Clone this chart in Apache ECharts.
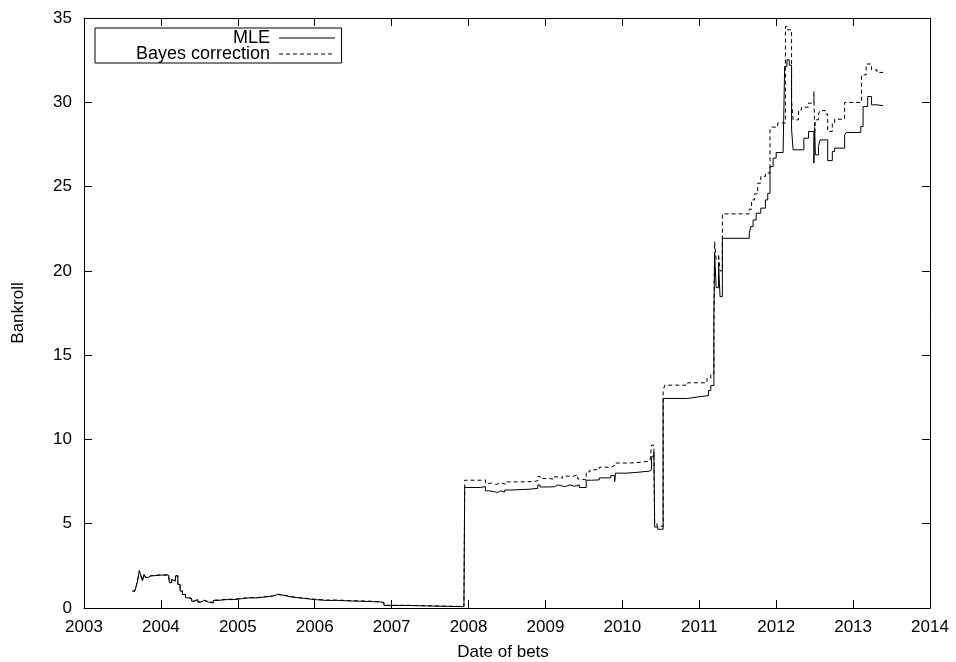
<!DOCTYPE html>
<html>
<head>
<meta charset="utf-8">
<script src="https://cdn.jsdelivr.net/npm/echarts@6/dist/echarts.min.js"></script>
<style>html,body{margin:0;padding:0;background:#fff;}#c{width:956px;height:662px;}</style>
</head>
<body>
<div id="c"></div>
<script>
// x ticks (years) and y ticks
const xTicks = [2003, 2004, 2005, 2006, 2007, 2008, 2009, 2010, 2011, 2012, 2013, 2014];
const yTicks = [0, 5, 10, 15, 20, 25, 30, 35];
const seriesNames = ['MLE', 'Bayes correction'];

// MLE bankroll: [date (fractional year), bankroll]
const mleData = [
  [2003.63,1.0],[2003.66,1.1],[2003.68,1.3],[2003.70,1.7],[2003.72,2.2],[2003.74,1.9],[2003.76,1.6],
  [2003.78,2.0],[2003.80,1.8],[2003.83,1.9],[2003.87,1.95],[2004.00,1.95],[2004.10,1.9],[2004.11,1.5],
  [2004.14,1.7],[2004.16,1.6],[2004.19,1.9],[2004.22,1.4],[2004.25,1.0],[2004.28,0.8],[2004.32,0.6],
  [2004.36,0.55],[2004.40,0.4],[2004.44,0.5],[2004.48,0.35],[2004.52,0.45],[2004.56,0.35],[2004.62,0.3],
  [2004.68,0.45],[2004.75,0.5],[2004.85,0.5],[2004.95,0.55],[2005.05,0.6],[2005.15,0.6],[2005.25,0.65],
  [2005.35,0.7],[2005.45,0.8],[2005.52,0.75],[2005.60,0.65],[2005.70,0.6],[2005.80,0.55],[2005.90,0.5],
  [2006.00,0.45],[2006.15,0.45],[2006.30,0.42],[2006.45,0.4],[2006.60,0.38],[2006.75,0.35],[2006.87,0.3],
  [2006.90,0.15],[2007.20,0.12],[2007.50,0.1],[2007.70,0.08],[2007.94,0.06],
  [2007.95,7.15],[2008.15,7.2],[2008.22,6.95],[2008.27,6.9],[2008.33,6.85],[2008.38,6.95],[2008.42,6.88],
  [2008.47,7.0],[2008.55,7.02],[2008.65,7.05],[2008.80,7.1],[2008.90,7.3],[2008.93,7.18],[2009.05,7.2],
  [2009.12,7.3],[2009.16,7.2],[2009.25,7.3],[2009.32,7.22],[2009.38,7.3],[2009.44,7.15],[2009.53,7.58],
  [2009.60,7.6],[2009.70,7.72],[2009.85,7.85],[2009.90,7.5],[2009.91,8.0],[2010.05,8.05],[2010.20,8.12],
  [2010.35,8.2],[2010.38,9.0],[2010.41,9.26],[2010.42,4.8],[2010.46,4.67],[2010.53,12.43],[2010.85,12.53],
  [2011.00,12.6],[2011.12,12.9],[2011.15,13.2],[2011.19,17.0],[2011.20,21.05],[2011.22,19.0],[2011.25,20.5],
  [2011.27,18.47],[2011.30,21.93],[2011.65,22.23],[2011.67,22.63],[2011.70,23.02],[2011.74,23.42],
  [2011.80,23.72],[2011.86,24.21],[2011.89,24.6],[2011.92,26.19],[2011.96,26.69],[2012.00,27.02],
  [2012.09,27.08],[2012.11,32.13],[2012.14,32.52],[2012.17,32.2],[2012.20,28.4],[2012.22,27.18],
  [2012.36,27.87],[2012.42,28.27],[2012.49,26.39],[2012.50,28.5],[2012.51,26.88],[2012.55,27.38],
  [2012.57,27.77],[2012.67,26.54],[2012.73,27.08],[2012.76,27.28],[2012.89,28.07],[2012.91,28.21],
  [2013.10,28.56],[2013.13,29.75],[2013.19,30.34],[2013.24,29.85],[2013.31,29.8],[2013.39,29.8]
];

// Bayes-corrected bankroll
const bayesData = [
  [2003.63,1.0],[2003.66,1.12],[2003.68,1.32],[2003.70,1.72],[2003.72,2.22],[2003.74,1.92],[2003.76,1.62],
  [2003.78,2.02],[2003.80,1.82],[2003.83,1.92],[2003.87,1.97],[2004.00,1.97],[2004.10,1.92],[2004.11,1.52],
  [2004.14,1.72],[2004.16,1.62],[2004.19,1.92],[2004.22,1.42],[2004.25,1.02],[2004.28,0.82],[2004.32,0.62],
  [2004.36,0.57],[2004.40,0.42],[2004.44,0.52],[2004.48,0.37],[2004.52,0.47],[2004.56,0.37],[2004.62,0.32],
  [2004.68,0.47],[2004.75,0.52],[2004.85,0.52],[2004.95,0.57],[2005.05,0.62],[2005.15,0.62],[2005.25,0.67],
  [2005.35,0.72],[2005.45,0.82],[2005.52,0.77],[2005.60,0.67],[2005.70,0.62],[2005.80,0.57],[2005.90,0.52],
  [2006.00,0.47],[2006.15,0.47],[2006.30,0.44],[2006.45,0.42],[2006.60,0.4],[2006.75,0.37],[2006.87,0.32],
  [2006.90,0.16],[2007.20,0.13],[2007.50,0.11],[2007.70,0.09],[2007.94,0.07],
  [2007.95,7.58],[2008.18,7.6],[2008.22,7.4],[2008.30,7.33],[2008.35,7.4],[2008.42,7.35],[2008.48,7.48],
  [2008.60,7.5],[2008.85,7.55],[2008.90,7.8],[2008.93,7.68],[2009.05,7.65],[2009.10,7.78],[2009.15,7.7],
  [2009.22,7.82],[2009.30,7.8],[2009.35,7.9],[2009.42,7.65],[2009.45,7.6],[2009.53,8.08],[2009.58,8.2],
  [2009.70,8.35],[2009.85,8.45],[2009.90,8.6],[2010.10,8.65],[2010.25,8.72],[2010.36,8.8],[2010.38,9.66],
  [2010.41,9.0],[2010.42,5.05],[2010.45,4.85],[2010.53,12.83],[2010.55,13.22],[2010.85,13.36],[2011.10,13.62],
  [2011.15,13.9],[2011.19,17.0],[2011.20,21.73],[2011.22,20.65],[2011.25,21.0],[2011.27,20.0],[2011.30,23.38],
  [2011.65,23.66],[2011.68,24.21],[2011.72,24.57],[2011.76,25.2],[2011.80,25.6],[2011.86,25.8],[2011.92,28.37],
  [2011.94,28.53],[2012.02,28.77],[2012.12,34.5],[2012.15,34.3],[2012.20,30.05],[2012.22,28.96],[2012.29,29.55],
  [2012.33,29.71],[2012.42,29.95],[2012.49,30.64],[2012.50,28.07],[2012.51,28.96],[2012.55,29.3],[2012.57,29.51],
  [2012.64,29.3],[2012.67,28.27],[2012.73,28.77],[2012.76,29.0],[2012.89,29.99],[2013.11,31.63],[2013.17,32.27],
  [2013.24,31.93],[2013.31,31.77],[2013.39,31.77]
];

const FONT = 'Liberation Sans, Arial, Helvetica, sans-serif';
const chart = echarts.init(document.getElementById('c'), null, {renderer: 'canvas'});
const axisLineStyle = {color: '#000', width: 1};
const tickStyle = {show: true, inside: true, length: 8, lineStyle: {color: '#000', width: 1}};

chart.setOption({
  animation: false,
  backgroundColor: '#fff',
  grid: {left: 84, right: 26, top: 18, bottom: 54, containLabel: false, outerBoundsMode: 'none'},
  legend: {
    data: seriesNames,
    orient: 'vertical',
    align: 'right',
    left: 95,
    top: 28,
    itemWidth: 56,
    itemHeight: 10,
    itemGap: -2,
    padding: [1, 6, 0, 41],
    borderColor: '#000',
    borderWidth: 1,
    selectedMode: false,
    itemStyle: {opacity: 0, color: 'transparent', borderWidth: 0},
    lineStyle: {width: 1},
    textStyle: {fontFamily: FONT, fontSize: 18, color: '#000', lineHeight: 16, padding: [0, 4, 0, 0]}
  },
  xAxis: [
    {
      type: 'value', min: xTicks[0], max: xTicks[xTicks.length - 1], interval: 1,
      name: 'Date of bets', nameLocation: 'middle', nameGap: 36,
      nameTextStyle: {fontFamily: FONT, fontSize: 17, color: '#000', padding: [0, 8, 0, 0]},
      axisLine: {show: true, onZero: false, lineStyle: axisLineStyle},
      axisTick: tickStyle,
      axisLabel: {fontFamily: FONT, fontSize: 17, color: '#000', margin: 11,
        formatter: v => (xTicks.indexOf(v) >= 0 ? String(v) : '')},
      splitLine: {show: false}
    },
    {
      type: 'value', position: 'top', min: xTicks[0], max: xTicks[xTicks.length - 1], interval: 1,
      axisLine: {show: true, onZero: false, lineStyle: axisLineStyle},
      axisTick: tickStyle, axisLabel: {show: false}, splitLine: {show: false}
    }
  ],
  yAxis: [
    {
      type: 'value', min: yTicks[0], max: yTicks[yTicks.length - 1], interval: 5,
      name: 'Bankroll', nameLocation: 'middle', nameGap: 57,
      nameTextStyle: {fontFamily: FONT, fontSize: 17, color: '#000'},
      axisLine: {show: true, onZero: false, lineStyle: axisLineStyle},
      axisTick: tickStyle,
      axisLabel: {fontFamily: FONT, fontSize: 17, color: '#000', margin: 12,
        formatter: v => (yTicks.indexOf(v) >= 0 ? String(v) : '')},
      splitLine: {show: false}
    },
    {
      type: 'value', position: 'right', min: yTicks[0], max: yTicks[yTicks.length - 1], interval: 5,
      axisLine: {show: true, onZero: false, lineStyle: axisLineStyle},
      axisTick: tickStyle, axisLabel: {show: false}, splitLine: {show: false}
    }
  ],
  series: [
    {
      name: seriesNames[0], type: 'line', step: 'end', data: mleData,
      symbol: 'none', showSymbol: false,
      lineStyle: {color: '#000', width: 1, type: 'solid'},
      itemStyle: {color: '#000'}
    },
    {
      name: seriesNames[1], type: 'line', step: 'end', data: bayesData,
      symbol: 'none', showSymbol: false,
      lineStyle: {color: '#000', width: 1, type: [4, 3]},
      itemStyle: {color: '#000'}
    }
  ]
});
</script>
</body>
</html>
